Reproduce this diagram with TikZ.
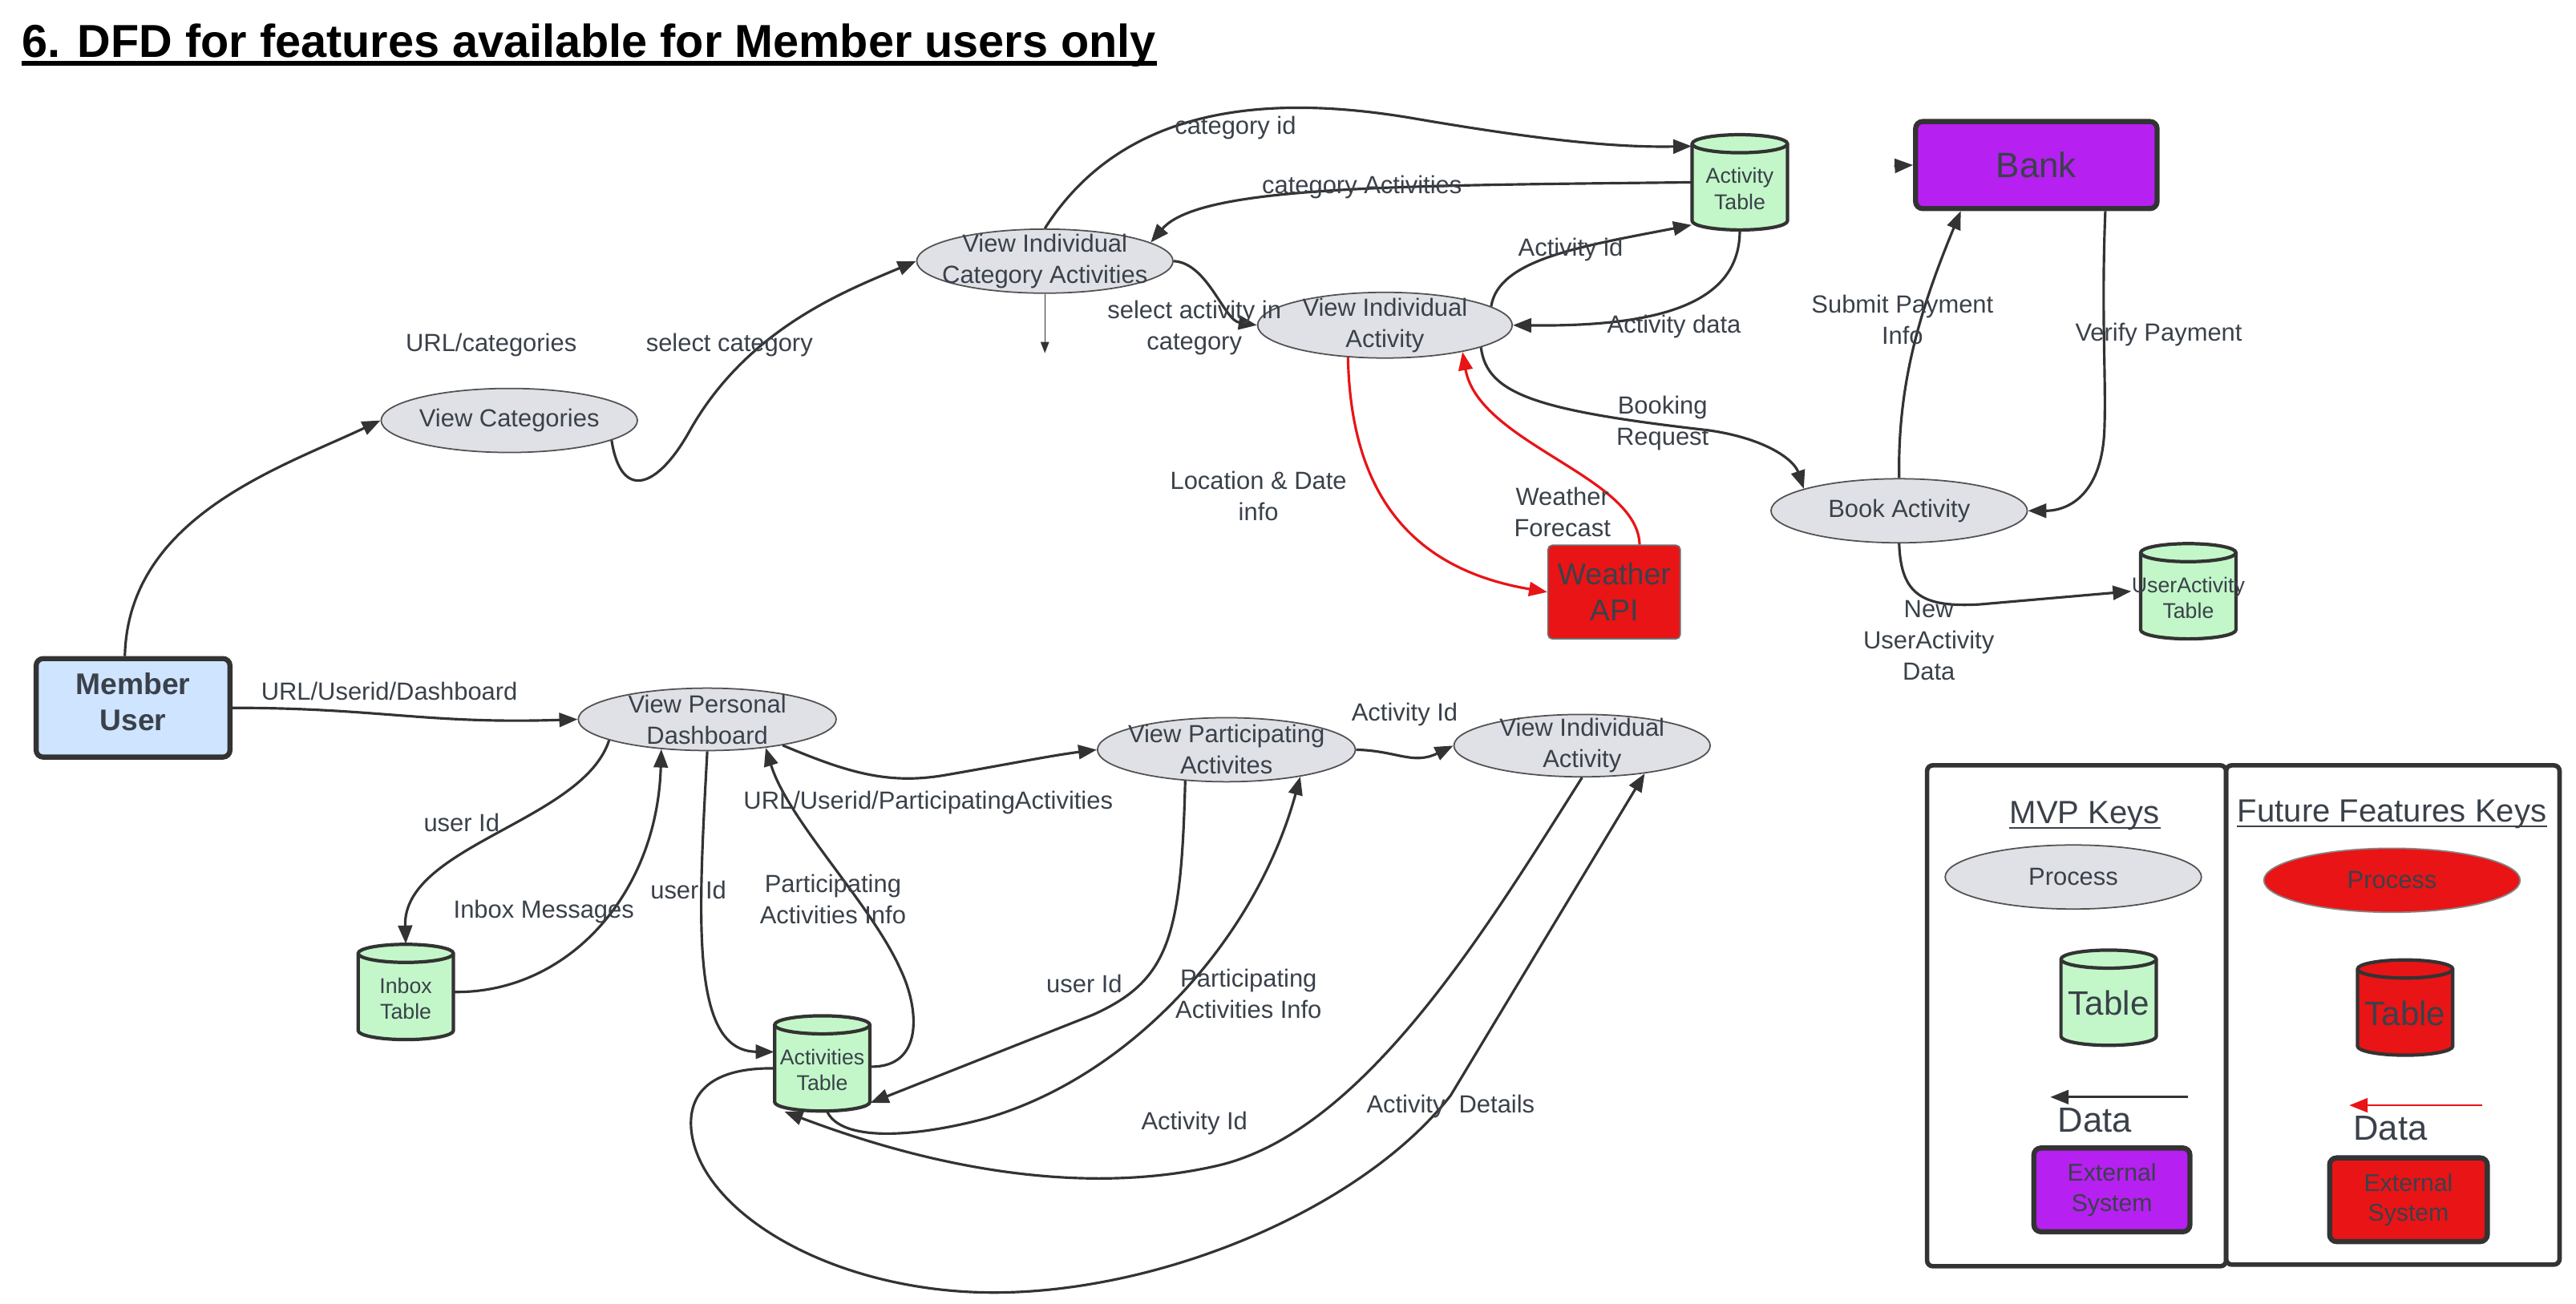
\documentclass[tikz,border=0pt]{standalone}
\usepackage{fontspec}
\setmainfont{Liberation Sans}
\usetikzlibrary{shapes.geometric,arrows.meta,calc}
\definecolor{txt}{RGB}{58,65,74}
\definecolor{lc}{RGB}{51,51,51}
\definecolor{procfill}{RGB}{223,225,230}
\definecolor{tblfill}{RGB}{195,247,201}
\definecolor{purp}{RGB}{182,32,240}
\definecolor{redc}{RGB}{232,20,22}
\definecolor{userfill}{RGB}{207,228,255}
\def\U{0.58303pt}
\newcommand\fsLab{\fontsize{8.8}{11.1}\selectfont}
\newcommand\fsTab{\fontsize{7.6}{9.3}\selectfont}
\newcommand\fsExt{\fontsize{8.6}{10.6}\selectfont}
\newcommand\tstack[2]{\raisebox{#1}[0pt][0pt]{\begin{tabular}{@{}c@{}}#2\end{tabular}}}
% cylinder drawing: x, y, fill, line width
\newcommand\cyl[4]{%
  \filldraw[draw=lc, fill=#3, line width=#4]
    (#1-29,#2-23.5) -- (#1-29,#2+23.5)
    arc[start angle=180, end angle=0, x radius=29, y radius=5.5]
    -- (#1+29,#2-23.5)
    arc[start angle=0, end angle=-180, x radius=29, y radius=5.5] -- cycle;
  \draw[draw=lc, line width=#4] (#1-29,#2-23.5)
    arc[start angle=180, end angle=0, x radius=29, y radius=5.5];
}
\begin{document}
\begin{tikzpicture}[x=0.0204911cm, y=-0.0204911cm, font=\fsLab, text=txt,
  proc/.style={ellipse, draw=lc!85, line width=0.5pt, fill=procfill,
    minimum width=156*\U, minimum height=39*\U,
    inner xsep=-20*\U, inner ysep=-10*\U, align=center},
  tbl/.style={rectangle, minimum width=58*\U, minimum height=58*\U,
    inner sep=0pt, align=center, font=\fsTab},
  ext/.style={rectangle, rounded corners=2.5pt, draw=lc, line width=1.8pt, align=center},
  flow/.style={draw=lc, line width=0.9pt, -{Triangle[length=6.5pt,width=5pt]}},
  rflow/.style={draw=redc, line width=0.9pt, -{Triangle[length=6.5pt,width=5pt]}},
  thinarr/.style={draw=lc, line width=0.4pt, -{Triangle[length=4pt,width=3pt]}},
  lab/.style={align=center, inner sep=0pt},
  flab/.style={lab, yshift=-1.1pt},
  keybox/.style={rectangle, draw=lc, line width=1.6pt, rounded corners=2pt}
]
\fill[white] (0,0) rectangle (1568,794);
\useasboundingbox (0,0) rectangle (1568,794);

% ---------- title ----------
\node[anchor=base west, inner sep=0pt, text=black,
  font=\fontsize{16.4}{18}\selectfont\bfseries] (title) at (13,35)
  {6. DFD for features available for Member users only};
\draw[line width=1.7pt] ($(title.base west)+(0,3.5)$) -- ($(title.base east)+(0,3.5)$);

% ---------- processes ----------
\node[proc] (vica) at (636,159) {View Individual\\Category Activities};
\node[proc, minimum width=155*\U, minimum height=40*\U] (via) at (843,198) {View Individual\\Activity};
\node[proc] (vcat) at (310,256) {View Categories};
\node[proc] (book) at (1156,311) {Book Activity};
\node[proc, minimum width=157*\U, minimum height=38*\U] (vpd) at (430.5,438) {View Personal\\Dashboard};
\node[proc, minimum width=157*\U] (vpa) at (746.5,456.5) {View Participating\\Activites};
\node[proc, minimum height=38*\U] (via2) at (963,454) {View Individual\\Activity};

% ---------- tables ----------
\cyl{1059}{111}{tblfill}{1.2pt}
\node[tbl] (at) at (1059,111) {\tstack{-5.2pt}{Activity\\Table}};
\cyl{1332}{360}{tblfill}{1.2pt}
\node[tbl] (uat) at (1332,360) {\tstack{-5.2pt}{UserActivity\\Table}};
\cyl{247}{604}{tblfill}{1.2pt}
\node[tbl] (inbox) at (247,604) {\tstack{-5.2pt}{Inbox\\Table}};
\cyl{500.5}{647.5}{tblfill}{1.2pt}
\node[tbl] (act) at (500.5,647.5) {\tstack{-5.2pt}{Activities\\Table}};

% ---------- external entities ----------
\node[ext, fill=purp, minimum width=147*\U, minimum height=53*\U,
  font=\fontsize{12.5}{14}\selectfont] (bank) at (1239.5,100.5) {Bank};
\node[ext, fill=userfill, minimum width=118*\U, minimum height=60*\U,
  font=\fontsize{10.6}{12.8}\selectfont\bfseries] (mu) at (81,431) {\tstack{-1.8pt}{Member\\User}};
\node[rectangle, rounded corners=1.5pt, draw=lc!70, line width=0.5pt, fill=redc,
  minimum width=77*\U, minimum height=57*\U, align=center,
  font=\fontsize{10.7}{12.8}\selectfont] (wapi) at (982.5,360.5) {Weather\\API};

% ---------- connectors ----------
\draw[flow] ($(mu.north)+(-5,0)$) .. controls (78,315) and (170,285) .. (vcat.west);
\draw[flow] (vcat.349) .. controls (378,305) and (400,298) .. (420,262)
  .. controls (455,200) and (515,177) .. (vica.west);
\draw[flow] (vica.north) .. controls (680,70) and (760,55) .. (860,72)
  .. controls (930,84) and (980,90) .. ($(at.west)+(0,-22)$);
\draw[flow] (at.west) .. controls (850,113) and (730,113) .. (vica.10);
\draw[flow] (vica.east) .. controls (735,160) and (745,195) .. (via.west);
\coordinate (vicadn) at (636,215);
\draw[thinarr] (vica.south) -- (vicadn);
\draw[flow] (via.10) .. controls (912,158) and (962,150) .. ($(at.west)+(0,26)$);
\draw[flow] (at.south) .. controls (1059,185) and (1010,199) .. (via.east);
\draw[flow] (via.347) .. controls (905,240) and (935,250) .. (1040,262)
  .. controls (1075,267) and (1092,280) .. (book.167);
\draw[flow] (book.north) .. controls (1155,235) and (1168,190) .. ($(bank.south)+(-46,0)$);
\draw[flow] ($(bank.south)+(42,0)$) .. controls (1279,190) and (1282,230) .. (1281,260)
  .. controls (1280,300) and (1260,311) .. (book.east);
\draw[flow] (book.south) .. controls (1157,362) and (1170,370) .. (1205,368) -- (uat.west);
\coordinate (bankin) at (1153,101);
\draw[flow] (bankin) -- (bank.west);
\draw[rflow] (via.221) .. controls (822,290) and (850,345) .. (wapi.west);
\draw[rflow] ($(wapi.north)+(15.5,0)$) .. controls (997,290) and (900,270) .. (via.341);

\draw[flow] (mu.east) .. controls (230,431) and (260,441) .. (vpd.west);
\draw[flow] (vpd.192) .. controls (355,500) and (245,515) .. (inbox.north);
\draw[flow] (inbox.east) .. controls (345,605) and (400,545) .. (vpd.213);
\draw[flow] (vpd.south) .. controls (425,560) and (420,640) .. ($(act.west)+(0,-7)$);
\draw[flow] ($(act.east)+(0,2)$) .. controls (562,650) and (560,615) .. (548,590)
  .. controls (530,550) and (480,500) .. (vpd.334);
\draw[flow] (vpd.341) .. controls (515,470) and (540,478) .. (575,472)
  .. controls (610,466) and (640,460) .. (vpa.west);
\draw[flow] (vpa.east) .. controls (850,457) and (860,466) .. (via2.west);
\draw[flow] (vpa.217) .. controls (719,570) and (712,597) .. (665,618) -- ($(act.east)+(0,24)$);
\draw[flow] ($(act.south)+(3,0)$) .. controls (512,695) and (555,693) .. (600,681)
  .. controls (690,655) and (765,570) .. (vpa.340);
\draw[flow] (via2.south) .. controls (905,565) and (830,690) .. (740,710)
  .. controls (660,728) and (570,712) .. ($(act.south)+(-23,0)$);
\draw[flow] ($(act.west)+(0,3)$) .. controls (430,650) and (418,668) .. (421,690)
  .. controls (428,740) and (510,788) .. (608,787)
  .. controls (710,786) and (830,735) .. (883,667) -- (via2.336);

% ---------- flow labels ----------
\node[flab] (lcatid) at (752,76) {category id};
\node[flab] (lcatact) at (829,112) {category Activities};
\node[flab] (lactid) at (956,150) {Activity id};
\node[flab] (lselact) at (727,197.5) {select activity in\\category};
\node[flab] (lactdata) at (1019,197) {Activity data};
\node[flab] (lurlcat) at (299,208) {URL/categories};
\node[flab] (lselcat) at (444,208) {select category};
\node[flab] (lsubmit) at (1158,193) {Submit Payment\\Info};
\node[flab] (lverify) at (1314,202) {Verify Payment};
\node[flab] (lbook) at (1012,256) {Booking\\Request};
\node[flab] (lloc) at (766,300) {Location \& Date\\info};
\node[flab] (lweather) at (951,310) {Weather\\Forecast};
\node[flab] (lnew) at (1174,388) {New\\UserActivity\\Data};
\node[flab] (lurldash) at (237,419) {URL/Userid/Dashboard};
\node[flab] (lactid2) at (855,433) {Activity Id};
\node[flab] (luid1) at (281,499) {user Id};
\node[flab] (lurlpart) at (565,487) {URL/Userid/ParticipatingActivities};
\node[flab] (linbox) at (331,553) {Inbox Messages};
\node[flab] (luid2) at (419,540) {user Id};
\node[flab] (lpart1) at (507,545.5) {Participating\\Activities Info};
\node[flab] (luid3) at (660,597) {user Id};
\node[flab] (lpart2) at (760,603) {Participating\\Activities Info};
\node[flab] (lactid3) at (727,682) {Activity Id};
\node[flab] (ldetails) at (883,672) {Activity\ \ Details};

% ---------- legend ----------
\node[keybox, minimum width=182*\U, minimum height=305*\U] (mvpbox) at (1264,618.5) {};
\node[keybox, minimum width=203*\U, minimum height=304*\U] (futbox) at (1456.5,618) {};
\node[flab, font=\fontsize{11.4}{13}\selectfont] (mvph) at (1269,495) {MVP Keys};
\draw[txt, line width=0.7pt] ($(mvph.base west)+(0,2.5)$) -- ($(mvph.base east)+(0,2.5)$);
\node[flab, font=\fontsize{11.4}{13}\selectfont] (futh) at (1456,494) {Future Features Keys};
\draw[txt, line width=0.7pt] ($(futh.base west)+(0,2.5)$) -- ($(futh.base east)+(0,2.5)$);

\node[proc] (kproc1) at (1262,534) {Process};
\node[proc, fill=redc, draw=lc!60] (kproc2) at (1456,536) {Process};

\cyl{1283.5}{607.5}{tblfill}{1.2pt}
\node[tbl, font=\fontsize{12}{14}\selectfont] (ktab1) at (1283.5,607.5) {\raisebox{-6.3pt}[0pt][0pt]{Table}};
\cyl{1464}{613.5}{redc}{1.2pt}
\node[tbl, font=\fontsize{12}{14}\selectfont] (ktab2) at (1464,613.5) {\raisebox{-6.3pt}[0pt][0pt]{Table}};

\coordinate (k1s) at (1332,668);
\coordinate (k1e) at (1248,668);
\draw[flow, line width=0.8pt] (k1s) -- (k1e);
\coordinate (k2s) at (1511,673);
\coordinate (k2e) at (1430,673);
\draw[rflow, line width=0.8pt] (k2s) -- (k2e);
\node[lab, font=\fontsize{12.4}{14}\selectfont] (kdata1) at (1275,682) {Data};
\node[lab, font=\fontsize{12.4}{14}\selectfont] (kdata2) at (1455,687) {Data};

\node[ext, fill=purp, minimum width=95*\U, minimum height=51*\U, font=\fsExt] (kext1) at (1285.5,724.5) {External\\System};
\node[ext, fill=redc, minimum width=96*\U, minimum height=51*\U, font=\fsExt] (kext2) at (1466,730.5) {External\\System};
\end{tikzpicture}
\end{document}
